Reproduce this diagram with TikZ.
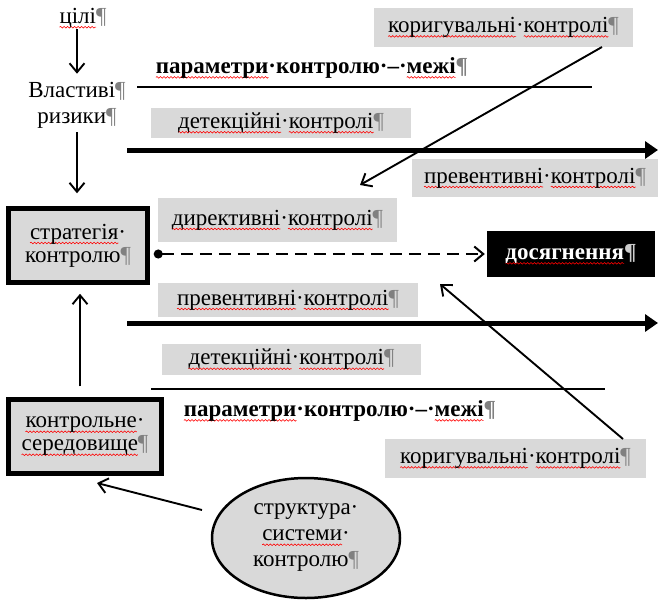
\documentclass[tikz,border=0pt]{standalone}
\usepackage{fontspec}
\setmainfont{Liberation Serif}
\usetikzlibrary{arrows.meta,shapes.geometric,calc,decorations.pathmorphing}
\definecolor{boxgray}{RGB}{217,217,217}
\newsavebox\rwbox
\newlength\rwlen
\newcommand\rw[1]{\sbox\rwbox{#1}\setlength\rwlen{\wd\rwbox}\rlap{\tikz[overlay,baseline=0pt]\draw[red, line width=0.6pt, dash pattern=on 1pt off 0pt, decorate, decoration={snake, amplitude=0.8pt, segment length=3.5pt}] (0pt,-3.8pt) -- (\rwlen,-3.8pt);}\usebox\rwbox}
\newcommand\pil{\textcolor{gray}{¶}}
\begin{document}
\begin{tikzpicture}[x=1pt,y=-1pt,
  txt/.style={inner sep=0pt, font=\fontsize{23}{26}\selectfont},
  gbox/.style={txt, fill=boxgray},
  sbox/.style={txt, fill=boxgray, draw=black, line width=3.5pt, align=center, font=\fontsize{23}{23}\selectfont},
  arr/.style={-{Straight Barb[length=9pt,width=15pt]}, line width=1.9pt},
  thickarr/.style={-{Triangle[length=13pt,width=17pt]}, line width=5pt},
  thinline/.style={line width=2pt}
]
\useasboundingbox (0,0) rectangle (658,600);

% text nodes
\node[txt] (cili) at (83,18) {\rw{цілі}\pil};
\node[txt, align=center] (vlast) at (77,105) {Властиві\pil\\ризики\pil};

\node[sbox, minimum width=140pt, minimum height=75pt] (strat) at (78,245.5) {\rw{стратегія}·\\контролю\pil};
\draw[line width=1pt] ($(strat.north west)+(4.5,4.5)$) rectangle ($(strat.south east)+(-4.5,-4.5)$);

\node[sbox, minimum width=154pt, minimum height=75pt] (kontr) at (85,436.5) {\rw{контрольне}·\\\rw{середовище}\pil};
\draw[line width=1pt] ($(kontr.north west)+(4.5,4.5)$) rectangle ($(kontr.south east)+(-4.5,-4.5)$);

\node[txt, ellipse, fill=boxgray, draw=black, line width=2.5pt, minimum width=188pt, minimum height=120pt, align=center] (struct) at (306,538) {структура·\\\rw{системи}·\\контролю\pil};

% top group
\node[gbox, minimum width=259pt, minimum height=39pt] (kor1) at (503.5,27.5) {\rw{коригувальні}·\rw{контролі}\pil};
\node[txt] (par1) at (312,68) {\bfseries\rw{параметри}·контролю·–·\rw{межі}\pil};
\node[gbox, minimum width=260pt, minimum height=30pt] (det1) at (281,123) {\rw{детекційні}·\rw{контролі}\pil};
\node[gbox, minimum width=246pt, minimum height=38pt] (prev1) at (535,178) {\rw{превентивні}·\rw{контролі}\pil};
\node[gbox, minimum width=239pt, minimum height=44pt] (dyr) at (277.5,220) {\rw{директивні}·\rw{контролі}\pil};

\node[txt, fill=black, text=white, minimum width=168pt, minimum height=46pt] (dos) at (571,254) {\bfseries\rw{досягнення}\textcolor{gray!40}{¶}};

% bottom group
\node[gbox, minimum width=260pt, minimum height=34pt] (prev2) at (288,300) {\rw{превентивні}·\rw{контролі}\pil};
\node[gbox, minimum width=259pt, minimum height=31pt] (det2) at (291.5,359.5) {\rw{детекційні}·\rw{контролі}\pil};
\node[txt] (par2) at (340,411) {\bfseries\rw{параметри}·контролю·–·\rw{межі}\pil};
\node[gbox, minimum width=261pt, minimum height=39pt] (kor2) at (515.5,458.5) {\rw{коригувальні}·\rw{контролі}\pil};

% coordinates for free ends
\coordinate (l1a) at (137,87);  \coordinate (l1b) at (592,87);
\coordinate (t1a) at (127,150); \coordinate (t1b) at (658,150);
\coordinate (t2a) at (127,323); \coordinate (t2b) at (658,323);
\coordinate (l2a) at (151,389); \coordinate (l2b) at (605,389);
\coordinate (d1s) at (602,47);  \coordinate (d1e) at (360,185);
\coordinate (d2s) at (623,439); \coordinate (d2e) at (440,284);
\coordinate (e1) at (202,510);  \coordinate (e2) at (97,483);

% connectors
\draw[arr, shorten <=1pt, shorten >=8pt] (cili.south -| vlast.north) -- (vlast.north);
\draw[arr, shorten <=4pt, shorten >=13pt] (vlast.south) -- (vlast.south |- strat.north);
\draw[arr, shorten <=11pt, shorten >=9pt] ([xshift=2pt]strat.south |- kontr.north) -- ([xshift=2pt]strat.south);
\draw[arr] (e1) -- (e2);

\draw[thinline] (l1a) -- (l1b);
\draw[thickarr] (t1a) -- (t1b);
\draw[thickarr] (t2a) -- (t2b);
\draw[thinline] (l2a) -- (l2b);

\draw[arr] (d1s) -- (d1e);
\draw[arr] (d2s) -- (d2e);

\draw[line width=2pt, dash pattern=on 12pt off 7pt, {Circle[length=9pt]}-{Straight Barb[length=9pt,width=15pt]}, shorten <=4pt, shorten >=2pt] (strat.east |- dos.west) -- (dos.west);
\end{tikzpicture}
\end{document}
